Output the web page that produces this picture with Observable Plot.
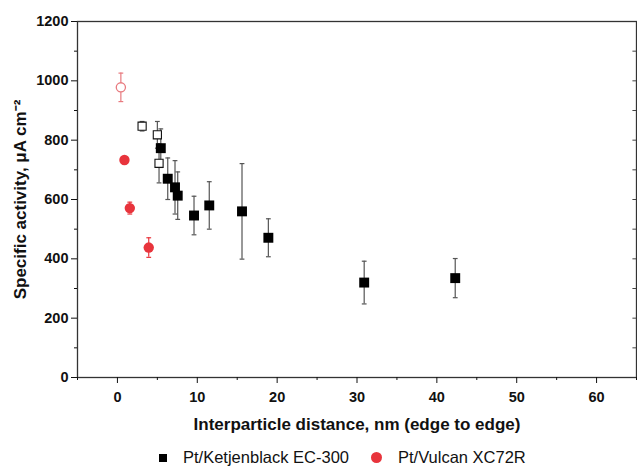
<!DOCTYPE html>
<html>
<head>
<meta charset="utf-8">
<script src="https://cdn.jsdelivr.net/npm/d3@7"></script>
<script src="https://cdn.jsdelivr.net/npm/@observablehq/plot@0.6"></script>
<style>
  html, body { margin: 0; padding: 0; background: #fff; }
  body { width: 637px; height: 467px; overflow: hidden; font-family: "Liberation Sans", Arial, sans-serif; }
  #legend { position: relative; height: 27px; font-size: 16.5px; color: #111; }
  #legend span { position: absolute; top: 8px; white-space: nowrap; }
  svg g[aria-label="x-axis tick label"], svg g[aria-label="y-axis tick label"],
  svg g[aria-label="x-axis tick label"] text, svg g[aria-label="y-axis tick label"] text {
    font-size: 14.5px !important; font-weight: bold !important; fill: #111;
  }
  svg g[aria-label="x-axis label"], svg g[aria-label="y-axis label"],
  svg g[aria-label="x-axis label"] text, svg g[aria-label="y-axis label"] text {
    font-size: 17px !important; font-weight: bold !important; fill: #111;
  }
</style>
</head>
<body>
<div id="chart"></div>
<div id="legend"></div>
<script>
// Pt/Ketjenblack EC-300 (filled squares)
const ketX   = [5.43, 6.3, 7.21, 7.55, 9.59, 11.5, 15.6, 18.9, 30.9, 42.3];
const ketY   = [773, 670, 641, 613, 546, 580, 560, 471, 320, 335];
const ketErr = [65, 70, 90, 80, 65, 80, 161, 64, 72, 66];
// Pt/Ketjenblack EC-300 (open squares)
const ketOpenX   = [3.09, 5.0, 5.21];
const ketOpenY   = [847, 818, 722];
const ketOpenErr = [16, 45, 66];
// Pt/Vulcan XC72R (filled circles)
const vulX   = [0.88, 1.55, 3.92];
const vulY   = [733, 571, 438];
const vulErr = [8, 20, 33];
// Pt/Vulcan XC72R (open circle)
const vulOpenX   = [0.43];
const vulOpenY   = [978];
const vulOpenErr = [48];

const xMajor = [0, 10, 20, 30, 40, 50, 60];
const xMinor = [-5, 5, 15, 25, 35, 45, 55, 65];
const yMajor = [0, 200, 400, 600, 800, 1000, 1200];
const yMinor = [100, 300, 500, 700, 900, 1100];
const yRightTicks = [100, 200, 300, 400, 500, 600, 700, 800, 900, 1000, 1100];

const legendLabels = ["Pt/Ketjenblack EC-300", "Pt/Vulcan XC72R"];

const mk = (xs, ys, es) => xs.map((x, i) => ({x, y: ys[i], lo: ys[i] - es[i], hi: ys[i] + es[i]}));
const ket = mk(ketX, ketY, ketErr);
const ketOpen = mk(ketOpenX, ketOpenY, ketOpenErr);
const vul = mk(vulX, vulY, vulErr);
const vulOpen = mk(vulOpenX, vulOpenY, vulOpenErr);

const cap = {draw(ctx, size) { const r = Math.sqrt(size / Math.PI); ctx.moveTo(-r, 0); ctx.lineTo(r, 0); }};

const grayBar = "#555";
const red = "#e8343c";
const pink = "#e87a7f";

function errMarks(data, color) {
  return [
    Plot.ruleX(data, {x: "x", y1: "lo", y2: "hi", stroke: color, strokeWidth: 1.2}),
    Plot.dot(data, {x: "x", y: "lo", symbol: cap, r: 2.4, stroke: color, strokeWidth: 1.2, fill: "none"}),
    Plot.dot(data, {x: "x", y: "hi", symbol: cap, r: 2.4, stroke: color, strokeWidth: 1.2, fill: "none"})
  ];
}

const plot = Plot.plot({
  width: 637,
  height: 440,
  marginTop: 21,
  marginBottom: 63,
  marginLeft: 77,
  marginRight: 1,
  style: {fontFamily: "'Liberation Sans', Arial, sans-serif", background: "#fff", color: "#111"},
  x: {domain: [-5, 65]},
  y: {domain: [0, 1200]},
  marks: [
    Plot.frame({stroke: "#333", strokeWidth: 1.3}),
    Plot.axisY(yMajor, {tickSize: 6, tickPadding: 3, tickFormat: d => String(d),
      label: "Specific activity, μA cm⁻²", labelAnchor: "center", labelArrow: "none", labelOffset: 64}),
    Plot.axisY(yMinor, {tickSize: 3, tickFormat: () => "", label: null}),
    Plot.axisX(xMajor, {tickSize: 6, tickPadding: 8, tickFormat: d => String(d),
      label: "Interparticle distance, nm (edge to edge)", labelAnchor: "center", labelArrow: "none", labelOffset: 52}),
    Plot.axisX(xMinor, {tickSize: 3, tickFormat: () => "", label: null}),
    Plot.ruleY(yRightTicks, {y: d => d, x1: 64.55, x2: 65, stroke: "#444"}),
    ...errMarks(vulOpen, pink),
    ...errMarks(vul, red),
    ...errMarks(ketOpen, grayBar),
    ...errMarks(ket, grayBar),
    Plot.dot(vulOpen, {x: "x", y: "y", r: 4.6, stroke: pink, strokeWidth: 1.3, fill: "white"}),
    Plot.dot(vul, {x: "x", y: "y", r: 5.2, fill: red, stroke: "none"}),
    Plot.dot(ketOpen, {x: "x", y: "y", symbol: "square", r: 4.6, stroke: "#111", strokeWidth: 1.1, fill: "white"}),
    Plot.dot(ket, {x: "x", y: "y", symbol: "square", r: 5.6, fill: "#000", stroke: "none"})
  ]
});
document.getElementById("chart").append(plot);

const lg = document.getElementById("legend");
lg.innerHTML =
  `<span style="left:159px;top:14px;width:8px;height:8px;background:#000"></span>` +
  `<span style="left:183px">${legendLabels[0]}</span>` +
  `<span style="left:371px;top:12px;width:11px;height:11px;border-radius:50%;background:${red}"></span>` +
  `<span style="left:398px">${legendLabels[1]}</span>`;
</script>
</body>
</html>
